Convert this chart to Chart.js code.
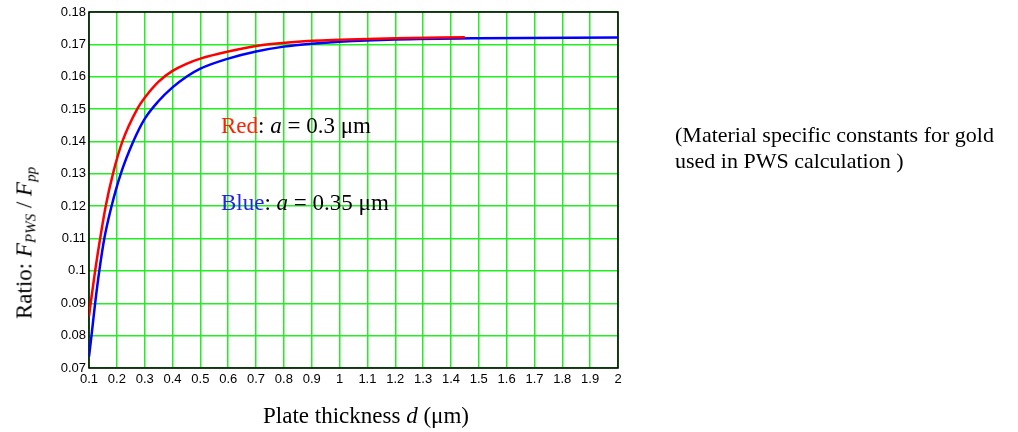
<!DOCTYPE html>
<html>
<head>
<meta charset="utf-8">
<script src="https://cdn.jsdelivr.net/npm/chart.js@4/dist/chart.umd.min.js"></script>
<style>
  body { margin: 0; background: #fff; }
  #wrap { position: relative; width: 1018px; height: 432px; overflow: hidden; }
  #chart { position: absolute; left: 0; top: 0; }
  .txt { position: absolute; font-family: 'Liberation Serif', 'Times New Roman', serif; color: #000; white-space: nowrap; }
  .lbl { font-size: 23px; line-height: 23px; }
  .note { font-size: 22px; line-height: 26px; }
  sub { font-size: 15px; vertical-align: -4px; line-height: 0; }
</style>
</head>
<body>
<div id="wrap">
  <canvas id="chart" width="1018" height="432"></canvas>
  <div class="txt lbl" style="left:221px; top:114px;"><span style="color:#ff2200">Red</span>: <i>a</i> = 0.3 μm</div>
  <div class="txt lbl" style="left:221px; top:191px;"><span style="color:#2222ee">Blue</span>: <i>a</i> = 0.35 μm</div>
  <div class="txt lbl" style="left:366px; top:404px; transform: translateX(-50%);">Plate thickness <i>d</i> (μm)</div>
  <div class="txt lbl" style="left:24px; top:243px; transform: translate(-50%, -50%) rotate(-90deg);">Ratio: <i>F<sub>PWS</sub></i> / <i>F<sub>pp</sub></i></div>
  <div class="txt note" style="left:675px; top:122px;">(Material specific constants for gold<br>used in PWS calculation )</div>
</div>
<script>
// plate thickness d (um) and ratio
const redD = [0.1, 0.106, 0.122, 0.14, 0.16, 0.186, 0.22, 0.273, 0.3, 0.35, 0.4, 0.45, 0.5, 0.6, 0.7, 0.85, 1.0, 1.2, 1.45];
const redRatio = [0.086, 0.09, 0.1, 0.11, 0.12, 0.13, 0.14, 0.15, 0.1535, 0.1585, 0.1618, 0.164, 0.1656, 0.1678, 0.1695, 0.1708, 0.1714, 0.1719, 0.1722];

const blueD = [0.1, 0.109, 0.122, 0.137, 0.155, 0.181, 0.214, 0.259, 0.3, 0.35, 0.4, 0.45, 0.5, 0.6, 0.7, 0.8, 0.9, 1.0, 1.2, 1.5, 2.0];
const blueRatio = [0.0735, 0.08, 0.09, 0.1, 0.11, 0.12, 0.13, 0.14, 0.147, 0.1525, 0.1567, 0.16, 0.1625, 0.1656, 0.1678, 0.1693, 0.1702, 0.1708, 0.1715, 0.1719, 0.1721];

const xTicks = [0.1, 0.2, 0.3, 0.4, 0.5, 0.6, 0.7, 0.8, 0.9, 1, 1.1, 1.2, 1.3, 1.4, 1.5, 1.6, 1.7, 1.8, 1.9, 2];
const xTickLabels = ['0.1', '0.2', '0.3', '0.4', '0.5', '0.6', '0.7', '0.8', '0.9', '1', '1.1', '1.2', '1.3', '1.4', '1.5', '1.6', '1.7', '1.8', '1.9', '2'];
const yTicks = [0.07, 0.08, 0.09, 0.1, 0.11, 0.12, 0.13, 0.14, 0.15, 0.16, 0.17, 0.18];
const yTickLabels = ['0.07', '0.08', '0.09', '0.1', '0.11', '0.12', '0.13', '0.14', '0.15', '0.16', '0.17', '0.18'];

const toPoints = (xs, ys) => xs.map((x, i) => ({ x: x, y: ys[i] }));

// black frame round the plot area
const framePlugin = {
  id: 'frame',
  beforeDatasetsDraw(chart) {
    const a = chart.chartArea;
    const ctx = chart.ctx;
    ctx.save();
    ctx.strokeStyle = '#000';
    ctx.lineWidth = 1.5;
    ctx.strokeRect(a.left, a.top, a.right - a.left, a.bottom - a.top);
    ctx.restore();
  }
};

const gridColor = '#22ee22';

new Chart(document.getElementById('chart'), {
  type: 'line',
  data: {
    datasets: [
      {
        label: 'a = 0.3',
        data: toPoints(redD, redRatio),
        borderColor: '#ff0000',
        borderWidth: 2.5,
        pointRadius: 0,
        cubicInterpolationMode: 'monotone',
        fill: false
      },
      {
        label: 'a = 0.35',
        data: toPoints(blueD, blueRatio),
        borderColor: '#0000ff',
        borderWidth: 2.5,
        pointRadius: 0,
        cubicInterpolationMode: 'monotone',
        fill: false
      }
    ]
  },
  options: {
    responsive: false,
    animation: false,
    layout: { padding: { left: 0, right: 400, top: 12, bottom: 0 } },
    plugins: {
      legend: { display: false },
      tooltip: { enabled: false }
    },
    scales: {
      x: {
        type: 'linear',
        min: 0.1,
        max: 2,
        afterBuildTicks: s => { s.ticks = xTicks.map(v => ({ value: v })); },
        afterFit: s => { s.height = 64; },
        ticks: {
          padding: 4,
          color: '#000',
          font: { family: 'Liberation Sans', size: 13 },
          maxRotation: 0,
          autoSkip: false,
          callback: (v, i) => xTickLabels[i]
        },
        grid: { color: gridColor, lineWidth: 1.5, drawTicks: false },
        border: { display: false }
      },
      y: {
        type: 'linear',
        min: 0.07,
        max: 0.18,
        afterBuildTicks: s => { s.ticks = yTicks.map(v => ({ value: v })); },
        afterFit: s => { s.width = 89; },
        ticks: {
          padding: 3,
          color: '#000',
          font: { family: 'Liberation Sans', size: 13 },
          autoSkip: false,
          callback: (v, i) => yTickLabels[i]
        },
        grid: { color: gridColor, lineWidth: 1.5, drawTicks: false },
        border: { display: false }
      }
    }
  },
  plugins: [framePlugin]
});
</script>
</body>
</html>
